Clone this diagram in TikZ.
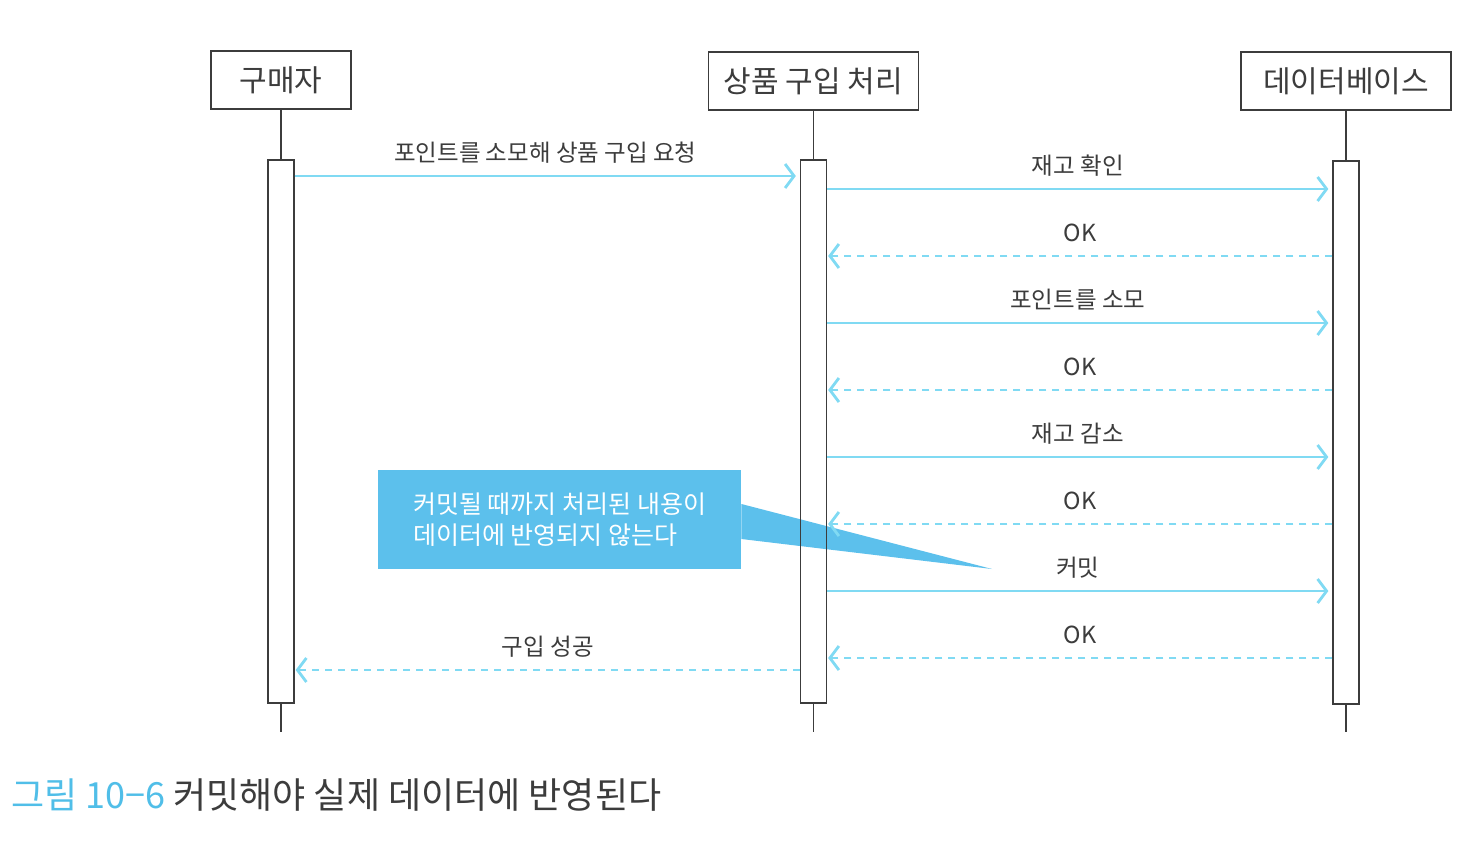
\documentclass[tikz,border=0pt]{standalone}
\usepackage{fontspec}
\setmainfont{Noto Sans CJK KR}
\usetikzlibrary{arrows.meta}
\definecolor{msg}{RGB}{128,218,243}
\definecolor{note}{RGB}{92,192,236}
\definecolor{ink}{RGB}{60,60,60}
\definecolor{capblue}{RGB}{80,190,232}
\begin{document}
\begin{tikzpicture}[x=1pt,y=-1pt,
  actor/.style={draw=ink, line width=1.3pt, minimum height=58pt, inner sep=0pt, font=\fontsize{30}{34}\selectfont, text=ink},
  bar/.style={draw=ink, line width=1.3pt, minimum width=26pt, inner sep=0pt},
  life/.style={draw=ink, line width=1.3pt},
  call/.style={draw=msg, line width=2.8pt, -{Straight Barb[length=9pt,width=24pt]}},
  ret/.style={call, dash pattern=on 7pt off 6pt},
  lbl/.style={font=\fontsize{23.5}{26}\selectfont, text=ink, midway, yshift=23pt},
  notebox/.style={fill=note, text=white, minimum height=99pt, minimum width=363pt, align=left, inner sep=0pt, font=\fontsize{25}{31}\selectfont},
  captext/.style={font=\fontsize{36}{40}\selectfont, text=ink}
]
\useasboundingbox (0,0) rectangle (1474,840);
\fill[white] (0,0) rectangle (1474,840);

% callout
\node[notebox, anchor=north west] (note) at (378,470) {커밋될 때까지 처리된 내용이\\데이터에 반영되지 않는다};
\coordinate (tip) at (992,569);
\fill[note] (note.east |- 0,504) -- (tip) -- (note.east |- 0,539) -- cycle;

% actors
\node[actor, minimum width=140pt] (buyer) at (281,80) {구매자};
\node[actor, minimum width=210pt] (proc) at (813.5,81) {상품 구입 처리};
\node[actor, minimum width=210pt] (db) at (1346,81) {데이터베이스};

% activation bars
\node[bar, minimum height=543pt] (bb) at (281,431.5) {};
\node[bar, minimum height=543pt] (pb) at (813.5,431.5) {};
\node[bar, minimum height=543pt] (db2) at (1346,432.5) {};

\coordinate (be) at (281,732);
\coordinate (pe) at (813.5,732);
\coordinate (de) at (1346,732);
\draw[life] (buyer.south) -- (bb.north);
\draw[life] (proc.south) -- (pb.north);
\draw[life] (db.south) -- (db2.north);
\draw[life] (bb.south) -- (be);
\draw[life] (pb.south) -- (pe);
\draw[life] (db2.south) -- (de);

% messages
\draw[call] (bb.east |- 0,176) -- node[lbl] {포인트를 소모해 상품 구입 요청} ([xshift=-4pt]pb.west |- 0,176);
\draw[call] (pb.east |- 0,189) -- node[lbl] {재고 확인} ([xshift=-4pt]db2.west |- 0,189);
\draw[ret] (db2.west |- 0,256) -- node[lbl] {OK} ([xshift=1pt]pb.east |- 0,256);
\draw[call] (pb.east |- 0,323) -- node[lbl] {포인트를 소모} ([xshift=-4pt]db2.west |- 0,323);
\draw[ret] (db2.west |- 0,390) -- node[lbl] {OK} ([xshift=1pt]pb.east |- 0,390);
\draw[call] (pb.east |- 0,457) -- node[lbl] {재고 감소} ([xshift=-4pt]db2.west |- 0,457);
\draw[ret] (db2.west |- 0,524) -- node[lbl] {OK} ([xshift=1pt]pb.east |- 0,524);
\draw[call] (pb.east |- 0,591) -- node[lbl] {커밋} ([xshift=-4pt]db2.west |- 0,591);
\draw[ret] (db2.west |- 0,658) -- node[lbl] {OK} ([xshift=1pt]pb.east |- 0,658);
\draw[ret] (pb.west |- 0,670) -- node[lbl] {구입 성공} ([xshift=1pt]bb.east |- 0,670);

% caption
\node[captext, anchor=base west, inner sep=0pt] (caption) at (11,808) {\textcolor{capblue}{그림 10−6} 커밋해야 실제 데이터에 반영된다};
\end{tikzpicture}
\end{document}
